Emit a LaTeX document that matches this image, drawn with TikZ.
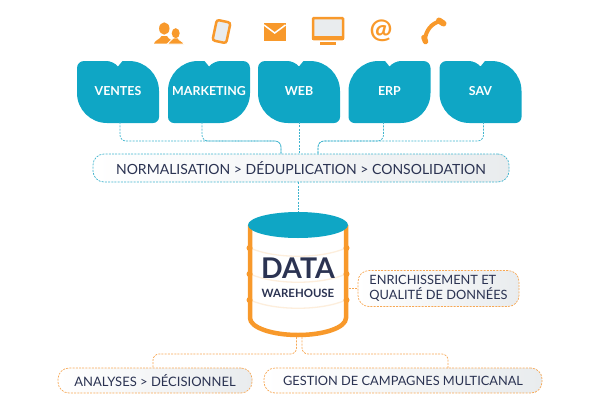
\documentclass[tikz,border=0pt]{standalone}
\usepackage{fontspec}
\setmainfont{Lato}
\usetikzlibrary{calc}
\usetikzlibrary{positioning}
\definecolor{tealblue}{HTML}{0FA6C5}
\definecolor{dotteal}{HTML}{3FB4CE}
\definecolor{warm}{HTML}{F8992B}
\definecolor{dotwarm}{HTML}{F7A855}
\definecolor{paleband}{HTML}{FDEEDC}
\definecolor{navy}{HTML}{2B3352}
\definecolor{barend}{HTML}{E9ECEE}
\tikzset{
  tilebox/.style={text=white,font=\bfseries\fontsize{12.4}{15}\selectfont,minimum width=82pt,minimum height=62pt,inner sep=0pt},
  barbox/.style={rounded corners=11pt,left color=white,right color=barend,text=navy,inner sep=0pt,line width=0.7pt,dash pattern=on 2pt off 1.2pt},
  tealbar/.style={barbox,draw=dotteal},
  warmbar/.style={barbox,draw=dotwarm},
  tealdots/.style={draw=dotteal,line width=0.7pt,dash pattern=on 2pt off 1.2pt,rounded corners=6pt},
  warmdots/.style={draw=dotwarm,line width=0.7pt,dash pattern=on 2pt off 1.2pt,rounded corners=6pt},
  band/.style={draw=paleband,line width=1.3pt},
}
% one tile: left edge, mirror (1 or -1), name, text
\newcommand{\tile}[4]{
\fill[tealblue,shift={(#1+41,61)},xscale=#2]
  [rounded corners=7pt](-41,0)--(-4.5,0)[rounded corners=0pt]--(0,5.5)--(4.5,0)
  [rounded corners=30pt]--(41,0)[rounded corners=6pt]--(41,62)[rounded corners=30pt]--(-41,62)[rounded corners=7pt]--cycle;
\node[tilebox](#3) at (#1+41,91){#4};
}
\begin{document}
\begin{tikzpicture}[x=1pt,y=-1pt]
\useasboundingbox (0,0) rectangle (600,405);

% icons
\fill[warm](164.3,28.5) ellipse [x radius=5.2pt,y radius=6.2pt];
\fill[warm](154,43.5)..controls(155,40)and(160,39.5)..(161.5,36)--(167,36)..controls(168.5,39.5)and(173,40)..(174.5,43.5)--cycle;
\fill[warm,draw=white,line width=0.8pt](167.3,44)..controls(168.5,41)and(172,41)..(173.5,38)--(178,38)..controls(179,41)and(183,41)..(184,44)--cycle;
\fill[warm](175.7,33.2) ellipse [x radius=4pt,y radius=5pt];
\node[draw=warm,fill=barend,line width=2.5pt,rounded corners=2.5pt,minimum width=14pt,minimum height=21pt,inner sep=0pt,rotate=-12](mobile) at (221.5,31.5){};
\fill[warm](263.5,23) rectangle (286,41);
\draw[white,line width=1.5pt](264,25)--(274.7,33)--(285.5,25);
\node[draw=warm,fill=barend,line width=2.5pt,rounded corners=1pt,minimum width=30pt,minimum height=21pt,inner sep=0pt](screen) at (328,28.5){};
\fill[warm](312,36) rectangle (344,40);
\fill[warm](320,42) rectangle (336,45);
\node[text=warm,font=\bfseries\fontsize{27}{27}\selectfont,inner sep=0pt](at) at (381,31){@};
\draw[warm,line width=4pt](441,21)..controls(431,23)and(426,31)..(425,39);
\draw[warm,line width=6pt,line cap=round](439,20.5)--(443.5,23.5);
\draw[warm,line width=5.5pt,line cap=round](424,37.5)--(425.5,41.5);

% tiles
\tile{77}{1}{ventes}{VENTES}
\tile{168}{-1}{marketing}{MARKETING}
\tile{258}{1}{web}{WEB}
\tile{348.5}{-1}{erp}{ERP}
\tile{439.5}{1}{sav}{SAV}

\node[tealbar,minimum width=416pt,minimum height=28pt,font=\fontsize{14}{18}\selectfont](norm) at (301,168){NORMALISATION > DÉDUPLICATION > CONSOLIDATION};

% warehouse
\node[minimum width=100pt,minimum height=125pt,inner sep=0pt](dw) at (298,274.5){};
\fill[white](250,225)--(346,225)--(346,318)arc[start angle=0,end angle=-180,x radius=48pt,y radius=17pt]--cycle;
\draw[band](250,248)..controls(275,259)and(321,259)..(346,248);
\draw[band](250,274)..controls(275,285)and(321,285)..(346,274);
\draw[band](250,300)..controls(275,311)and(321,311)..(346,300);
\draw[warm,line width=4.5pt](346,225)--(346,318)arc[start angle=0,end angle=-180,x radius=48pt,y radius=17pt]--(250,225);
\foreach \ypos in {248,274,300}{
  \fill[warm](249.5,\ypos) circle (3);
  \fill[warm](346.5,\ypos) circle (3);
}
\fill[tealblue](298,225) ellipse [x radius=50pt,y radius=13pt];
\node[text=navy,font=\bfseries\fontsize{28.5}{30}\selectfont,inner sep=0pt](data) at (298,268){DATA};
\node[text=navy,font=\bfseries\fontsize{11.4}{14}\selectfont,inner sep=0pt](house) at (298,293){WAREHOUSE};

% boxes round the warehouse
\node[warmbar,minimum width=161pt,minimum height=36pt,align=left,font=\fontsize{12.8}{15}\selectfont](enrich) at (438.5,288.5){ENRICHISSEMENT ET\\QUALITÉ DE DONNÉES};
\node[warmbar,minimum width=194pt,minimum height=25pt,font=\fontsize{13}{15}\selectfont](analyses) at (155,380.5){ANALYSES > DÉCISIONNEL};
\node[warmbar,minimum width=278pt,minimum height=25pt,font=\fontsize{12.8}{15}\selectfont](gestion) at (403,380.5){GESTION DE CAMPAGNES MULTICANAL};

% connectors
\coordinate (joinl) at (281,154);
\coordinate (joinr) at (318,154);
\coordinate (joina) at (153,368);
\coordinate (joing) at (448,368);
\draw[tealdots]([xshift=2pt]ventes.south)|-(281,141)--(joinl);
\draw[tealdots]([xshift=-7pt]marketing.south)|-(281,141)--(joinl);
\draw[tealdots](web.south)--(web.south|-norm.north);
\draw[tealdots]([xshift=-6pt]erp.south)|-(318,141)--(joinr);
\draw[tealdots]([xshift=3pt]sav.south)|-(318,141)--(joinr);
\draw[tealdots](dw.north|-norm.south)--(dw.north);
\draw[warmdots](349,288.5)--(enrich.west);
\draw[warmdots]([xshift=-1.5pt]dw.south)|-(153,354)--(joina);
\draw[warmdots]([xshift=4pt]dw.south)|-(448,354)--(joing);
\end{tikzpicture}
\end{document}
